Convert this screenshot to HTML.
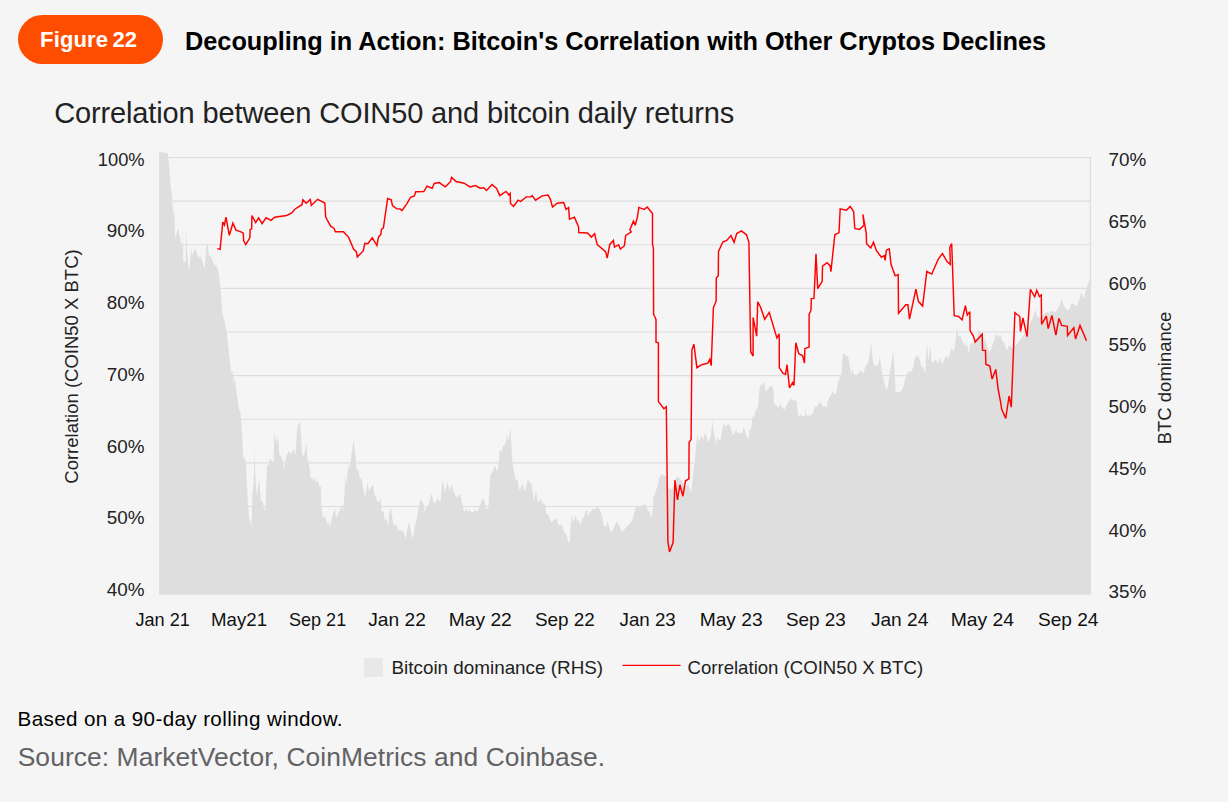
<!DOCTYPE html>
<html lang="en">
<head>
<meta charset="utf-8">
<title>Figure 22 - Decoupling in Action</title>
<style>
html,body{margin:0;padding:0;}
body{width:1228px;height:802px;background:#f5f5f5;overflow:hidden;position:relative;font-family:"Liberation Sans",Arial,sans-serif;}
.badge{position:absolute;left:18px;top:15px;width:145px;height:48.5px;border-radius:25px;background:#ff4d00;}
.badge span{position:absolute;left:22.1px;top:14.1px;color:#fff;font-weight:bold;font-size:22px;letter-spacing:0.15px;word-spacing:-2.0px;line-height:1;white-space:nowrap;}
.title{position:absolute;left:185.0px;top:28.5px;margin:0;font-weight:bold;font-size:25.3px;letter-spacing:0px;line-height:1;color:#000;white-space:nowrap;}
.sub{position:absolute;left:54.2px;top:99px;font-size:29px;letter-spacing:-0.13px;line-height:1;color:#222222;white-space:nowrap;}
.note{position:absolute;left:17.5px;top:709px;font-size:20.6px;letter-spacing:0.39px;line-height:1;color:#000;white-space:nowrap;}
.src{position:absolute;left:17.7px;top:743.5px;font-size:26.4px;letter-spacing:0.08px;line-height:1;color:#626264;white-space:nowrap;}
svg{position:absolute;left:0;top:0;}
svg text{font-family:"Liberation Sans",Arial,sans-serif;}
</style>
</head>
<body>
<div class="badge"><span>Figure 22</span></div>
<h1 class="title">Decoupling in Action: Bitcoin's Correlation with Other Cryptos Declines</h1>
<div class="sub">Correlation between COIN50 and bitcoin daily returns</div>
<svg width="1228" height="802" viewBox="0 0 1228 802">
<g stroke="#dddddd" stroke-width="1.1" fill="none">
<line x1="159.1" x2="1091.0" y1="157.55" y2="157.55"/>
<line x1="159.1" x2="1091.0" y1="201.17" y2="201.17"/>
<line x1="159.1" x2="1091.0" y1="244.79" y2="244.79"/>
<line x1="159.1" x2="1091.0" y1="288.41" y2="288.41"/>
<line x1="159.1" x2="1091.0" y1="332.03" y2="332.03"/>
<line x1="159.1" x2="1091.0" y1="375.65" y2="375.65"/>
<line x1="159.1" x2="1091.0" y1="419.27" y2="419.27"/>
<line x1="159.1" x2="1091.0" y1="462.89" y2="462.89"/>
<line x1="159.1" x2="1091.0" y1="506.51" y2="506.51"/>
<line x1="159.1" x2="1091.0" y1="550.13" y2="550.13"/>
<line x1="159.1" x2="1091.0" y1="593.75" y2="593.75"/>
<line x1="1090.4" x2="1090.4" y1="157" y2="594.5"/>
</g>
<path d="M159.1 151.8 L167.5 153.3 L168.6 159.5 L170.4 184.0 L171.9 195.6 L172.6 207.3 L174.5 216.4 L175.0 239.0 L178.0 228.0 L181.0 242.9 L182.5 243.9 L182.8 226.0 L183.3 262.0 L185.5 262.0 L186.0 226.0 L187.0 250.0 L189.0 272.9 L191.4 247.9 L192.4 254.9 L194.9 247.9 L196.9 252.9 L198.4 258.9 L199.9 254.9 L204.9 268.4 L206.4 245.9 L207.9 244.4 L208.9 255.9 L210.4 255.4 L214.9 265.9 L216.4 264.9 L218.4 270.9 L219.9 282.9 L220.7 290.0 L222.5 314.9 L224.2 320.1 L226.8 332.4 L228.6 349.8 L231.2 372.5 L232.6 370.8 L233.8 384.7 L235.0 377.7 L236.4 391.7 L239.0 409.1 L240.5 413.0 L241.2 421.2 L243.1 454.9 L244.0 460.5 L244.6 455.8 L245.9 464.2 L247.8 501.6 L249.6 522.1 L250.6 520.3 L251.5 529.6 L252.4 492.2 L253.3 487.0 L254.2 470.0 L254.7 447.4 L255.2 470.0 L256.0 487.0 L257.1 496.0 L259.0 478.2 L260.8 499.7 L262.7 502.5 L264.6 509.1 L265.5 510.0 L266.8 466.1 L268.3 465.1 L270.2 457.7 L272.1 461.4 L273.4 463.3 L274.5 432.4 L276.4 442.7 L277.9 436.2 L279.5 454.9 L281.4 456.7 L283.3 462.3 L284.2 469.8 L286.1 456.7 L288.9 451.1 L290.7 453.9 L293.6 448.9 L295.4 454.9 L297.3 426.8 L300.1 421.2 L302.0 453.0 L303.8 456.7 L306.3 443.6 L307.6 460.5 L309.4 466.1 L310.7 479.2 L312.2 476.4 L313.7 482.0 L315.0 477.3 L316.4 482.9 L317.9 480.1 L319.3 486.6 L320.7 485.7 L321.6 509.1 L323.5 518.4 L325.0 515.6 L327.2 524.0 L328.7 521.2 L329.6 527.8 L331.9 518.4 L334.7 508.1 L336.0 517.5 L339.3 510.9 L341.9 506.0 L342.8 512.5 L344.1 498.5 L345.6 476.1 L346.5 484.5 L348.4 463.9 L349.9 468.6 L351.6 453.6 L353.6 439.6 L355.5 455.5 L356.4 470.5 L357.8 468.2 L360.2 479.8 L361.5 477.0 L362.8 486.4 L365.2 497.6 L367.5 482.6 L369.0 491.0 L370.8 487.3 L373.1 485.0 L374.6 494.8 L377.4 501.3 L379.3 502.2 L380.6 497.6 L381.5 510.7 L383.4 511.6 L384.9 520.9 L386.4 518.1 L387.9 526.5 L389.5 511.6 L390.8 507.9 L392.9 521.9 L394.6 526.5 L396.1 523.7 L398.3 530.3 L401.3 529.9 L403.6 532.1 L405.8 538.7 L407.7 526.5 L409.2 521.9 L411.0 532.1 L412.9 538.7 L414.8 526.5 L416.6 519.1 L418.5 507.9 L420.4 498.5 L422.2 502.2 L423.7 504.1 L424.7 512.5 L426.4 506.0 L428.2 506.0 L429.7 500.4 L431.6 493.5 L433.5 502.2 L435.0 503.2 L437.2 498.5 L439.1 500.4 L440.6 501.3 L442.4 480.7 L443.7 484.5 L444.7 492.0 L447.5 482.6 L449.3 490.1 L451.5 484.8 L453.4 490.4 L455.2 495.0 L457.1 497.9 L458.4 495.0 L460.3 494.1 L461.6 501.6 L463.1 507.2 L464.0 512.8 L465.9 508.1 L467.8 511.9 L469.3 510.0 L471.5 511.9 L473.4 512.8 L475.2 509.1 L477.1 511.9 L479.0 508.1 L480.8 503.5 L482.7 497.9 L484.6 501.6 L485.5 508.1 L488.3 509.1 L489.6 488.5 L490.2 475.4 L492.1 472.6 L494.9 465.1 L496.4 469.8 L497.7 470.7 L499.0 460.5 L499.5 450.2 L501.4 452.1 L502.7 446.4 L505.1 444.6 L507.0 435.2 L508.3 441.8 L510.4 427.8 L511.7 451.1 L512.6 464.2 L514.5 473.6 L515.4 479.2 L517.7 480.1 L518.8 489.4 L520.7 488.5 L522.5 482.9 L524.2 491.3 L525.7 488.5 L528.1 478.2 L529.4 482.9 L530.7 482.0 L532.2 488.5 L534.1 501.6 L536.0 488.5 L537.5 501.6 L539.4 501.6 L541.2 498.8 L542.5 504.4 L544.4 502.5 L545.7 507.2 L546.3 514.7 L548.1 513.7 L550.0 519.3 L551.9 523.1 L553.7 518.4 L555.0 520.3 L556.5 518.0 L558.4 525.0 L560.7 524.4 L561.9 525.3 L563.7 530.9 L566.5 534.7 L568.4 543.1 L569.7 542.1 L570.7 525.3 L572.1 514.1 L573.6 523.5 L575.5 515.0 L577.2 521.6 L578.7 519.7 L580.2 525.3 L582.4 518.8 L584.3 516.0 L586.7 508.5 L588.0 516.0 L589.9 512.2 L592.7 508.5 L594.6 509.4 L597.4 506.6 L600.2 510.4 L602.1 516.0 L603.9 525.3 L605.8 527.2 L607.7 521.6 L609.2 527.2 L611.0 532.8 L613.3 529.1 L615.1 524.4 L617.0 521.6 L619.8 527.2 L622.1 531.9 L624.5 529.1 L627.3 526.3 L630.1 523.5 L632.5 519.7 L634.8 510.4 L636.6 505.7 L639.4 506.3 L642.0 506.6 L644.5 503.8 L646.4 506.6 L647.9 510.4 L649.3 511.3 L651.2 517.9 L652.9 508.5 L653.5 497.3 L655.3 492.6 L657.2 487.0 L659.1 478.6 L661.5 473.9 L663.7 475.8 L666.0 475.8 L668.4 487.9 L672.1 489.8 L675.0 479.5 L677.8 476.7 L680.0 478.5 L682.5 482.0 L685.0 487.8 L688.0 483.8 L691.0 492.8 L693.0 475.8 L694.8 460.0 L696.0 447.1 L697.4 434.1 L698.2 441.4 L700.1 439.0 L701.5 434.9 L703.3 439.8 L704.5 434.9 L706.0 432.9 L707.0 439.0 L708.6 442.6 L710.7 436.5 L712.4 421.1 L714.3 435.7 L716.4 443.9 L717.4 436.9 L718.4 440.2 L720.7 439.0 L722.1 430.0 L723.7 422.7 L724.9 426.8 L725.7 426.4 L727.3 424.7 L729.0 424.3 L730.6 427.6 L731.8 430.8 L732.6 435.3 L734.7 432.5 L736.3 429.2 L737.1 432.9 L738.7 432.5 L740.8 433.7 L742.7 432.5 L743.5 426.8 L744.9 430.8 L746.1 435.7 L748.5 438.6 L749.7 430.4 L751.4 427.6 L752.4 417.8 L754.1 415.9 L756.1 409.4 L757.7 408.5 L758.6 399.5 L759.6 387.8 L761.2 383.3 L762.4 386.2 L763.4 383.3 L764.5 380.1 L765.1 389.4 L766.3 391.1 L768.3 388.6 L770.4 386.2 L772.8 386.8 L773.6 391.9 L774.0 403.3 L776.1 405.3 L778.1 407.8 L780.3 404.1 L781.4 406.9 L784.6 409.8 L786.6 405.3 L788.7 401.2 L789.9 400.8 L791.5 398.2 L792.8 400.4 L794.4 400.0 L795.6 401.6 L796.4 400.0 L797.2 407.3 L798.0 414.7 L799.3 417.5 L800.1 414.3 L801.7 416.1 L805.0 416.1 L805.5 407.3 L806.2 415.9 L808.6 415.1 L810.3 416.7 L811.5 413.5 L812.5 414.7 L813.9 409.8 L815.6 405.7 L817.2 407.3 L818.4 404.1 L819.9 402.1 L821.7 404.5 L823.7 407.3 L824.9 406.1 L826.5 407.8 L827.8 401.6 L829.8 396.4 L831.4 393.9 L832.7 390.7 L833.9 394.3 L835.9 393.5 L837.1 387.8 L838.8 379.7 L840.4 375.6 L841.2 377.2 L842.0 366.6 L842.2 357.4 L843.7 352.7 L845.9 355.5 L848.2 356.4 L850.0 366.7 L851.5 374.2 L852.9 369.5 L854.0 374.2 L856.2 376.1 L857.8 374.1 L860.6 370.4 L863.4 373.2 L865.8 365.7 L868.1 362.9 L869.6 353.6 L870.9 341.4 L872.2 355.4 L873.7 364.8 L875.9 366.3 L878.4 364.8 L879.9 357.3 L882.1 374.1 L884.0 381.6 L885.8 389.1 L887.7 388.1 L889.6 374.1 L891.8 361.0 L893.3 349.8 L894.6 372.2 L895.7 391.9 L899.9 391.9 L902.7 389.1 L905.5 377.9 L908.3 371.3 L910.5 372.2 L912.9 368.5 L914.8 358.2 L917.1 355.4 L919.1 357.3 L921.4 366.6 L923.2 367.6 L925.1 374.1 L926.0 355.4 L927.0 343.3 L928.5 361.0 L930.3 345.1 L931.6 362.9 L933.5 362.0 L935.7 359.2 L938.2 363.8 L940.0 357.3 L942.3 364.8 L944.3 359.2 L946.2 355.4 L947.9 358.8 L949.8 354.5 L951.6 347.9 L953.1 351.7 L955.0 346.1 L956.9 327.4 L958.2 336.7 L960.0 334.9 L962.5 341.4 L965.3 346.1 L967.1 344.2 L968.8 354.2 L970.2 344.5 L972.9 342.5 L975.5 339.4 L977.2 336.8 L978.6 329.8 L980.4 332.4 L982.4 335.0 L984.5 338.5 L986.8 345.5 L989.4 352.5 L991.2 349.0 L992.9 343.8 L994.7 338.5 L996.4 333.3 L998.2 337.6 L1000.4 334.2 L1002.0 340.3 L1004.3 342.9 L1006.0 349.0 L1007.2 350.7 L1008.6 345.5 L1010.7 346.4 L1013.0 349.0 L1015.6 345.5 L1018.2 342.0 L1020.8 339.4 L1023.5 335.0 L1026.1 332.4 L1028.7 327.2 L1031.3 321.1 L1033.1 317.6 L1035.3 309.7 L1036.9 315.8 L1039.2 317.6 L1041.8 317.6 L1044.4 314.1 L1046.5 311.5 L1048.8 313.2 L1051.4 310.6 L1054.0 312.3 L1056.6 310.6 L1059.2 306.2 L1061.8 298.7 L1063.9 306.2 L1066.2 308.9 L1068.8 310.6 L1071.4 302.7 L1074.1 304.5 L1076.7 306.2 L1079.3 299.3 L1081.6 292.3 L1083.3 299.3 L1085.4 293.2 L1087.1 286.2 L1089.2 280.9 L1090.9 275.7 L1090.9 594.5 L159.1 594.5 Z" fill="#dedede" stroke="none"/>
<path d="M217.3 248.6 L220.1 249.4 L222.8 222.1 L224.4 224.9 L226.0 217.1 L229.3 235.3 L232.9 223.2 L236.0 230.1 L241.0 231.8 L243.3 233.1 L243.6 240.6 L245.8 244.5 L249.9 237.6 L250.1 229.5 L251.7 228.8 L251.9 215.5 L255.7 222.6 L258.6 217.8 L262.1 223.6 L266.0 217.8 L271.0 220.4 L274.6 217.2 L286.6 215.5 L291.8 212.9 L295.1 209.0 L302.0 204.7 L302.9 199.8 L306.2 203.3 L310.2 199.5 L311.4 205.4 L317.6 199.3 L324.8 203.0 L325.7 217.1 L330.6 226.2 L333.9 228.2 L335.4 231.8 L343.4 231.8 L348.5 237.1 L353.7 249.4 L356.3 251.6 L357.3 256.9 L363.2 251.0 L364.9 243.4 L367.8 243.7 L372.3 237.7 L376.9 245.5 L378.6 236.7 L380.8 234.7 L381.4 229.5 L383.4 227.8 L387.6 198.6 L391.2 199.9 L392.5 205.7 L396.4 208.6 L400.1 209.0 L401.9 210.6 L406.8 203.8 L410.5 197.3 L414.4 196.0 L415.7 191.7 L423.8 191.6 L427.0 186.1 L432.2 188.2 L434.2 183.5 L439.2 182.6 L445.3 186.8 L450.5 181.7 L451.6 177.4 L456.1 181.5 L464.1 183.2 L469.9 186.9 L475.4 185.6 L480.2 188.2 L483.9 187.8 L486.5 190.4 L492.0 184.5 L496.6 188.5 L499.8 195.6 L506.0 191.4 L508.9 195.0 L510.2 193.4 L510.5 203.4 L513.5 206.4 L518.1 200.2 L520.7 201.5 L526.2 196.9 L530.8 196.7 L532.1 195.6 L535.6 200.2 L542.2 195.9 L548.0 195.1 L550.3 199.1 L552.5 207.0 L557.1 203.2 L563.7 202.5 L566.0 209.3 L568.6 207.6 L569.5 219.1 L574.4 217.1 L578.6 226.9 L578.7 232.5 L587.5 233.0 L591.4 237.1 L594.6 233.7 L597.2 244.5 L605.6 251.6 L607.2 258.1 L609.8 244.4 L613.4 240.4 L614.5 247.1 L618.6 244.7 L620.4 249.0 L624.4 245.7 L625.7 235.5 L631.2 232.1 L629.9 229.6 L633.4 221.1 L635.2 225.3 L637.5 216.6 L638.8 207.4 L644.0 209.5 L647.2 207.1 L652.5 213.6 L652.5 243.9 L653.4 248.3 L653.6 314.2 L656.0 319.4 L656.0 342.2 L658.4 342.8 L658.4 401.6 L663.9 408.8 L666.3 406.8 L667.9 541.6 L669.5 552.0 L673.1 542.6 L674.9 480.2 L677.5 499.8 L679.9 484.8 L682.9 496.2 L685.5 480.8 L688.9 478.8 L689.1 442.3 L691.1 439.5 L691.9 349.8 L693.9 344.2 L696.9 367.7 L701.8 364.7 L707.8 363.1 L709.8 359.3 L711.2 365.7 L713.4 307.7 L716.1 301.2 L716.3 278.0 L718.3 275.8 L718.5 251.5 L722.8 242.0 L726.7 240.4 L731.0 235.6 L734.1 242.4 L736.7 233.6 L741.4 230.9 L746.5 234.8 L748.9 242.4 L750.7 351.7 L753.1 356.1 L753.1 317.4 L756.7 336.2 L757.7 301.8 L760.5 307.0 L764.7 319.3 L769.2 312.4 L776.9 338.0 L779.2 333.8 L779.3 367.6 L783.0 373.4 L785.6 374.2 L787.0 364.6 L789.5 387.8 L792.7 382.5 L794.0 385.5 L795.8 342.8 L798.8 353.8 L802.5 355.5 L804.5 363.1 L804.8 348.7 L809.1 347.0 L809.1 314.5 L811.0 310.2 L811.3 298.6 L814.0 298.4 L816.0 253.8 L817.7 288.6 L822.2 281.2 L822.5 266.1 L827.0 262.7 L830.2 265.9 L830.9 271.6 L834.8 234.8 L839.0 232.6 L840.2 208.8 L846.5 210.1 L850.2 206.4 L853.6 211.5 L854.8 228.5 L859.5 229.4 L864.0 225.3 L862.9 214.3 L866.2 232.9 L866.6 243.8 L870.8 248.0 L873.5 242.1 L876.3 250.5 L881.4 257.2 L884.2 255.6 L885.1 260.3 L886.4 250.2 L889.3 248.8 L891.0 264.3 L895.2 275.8 L898.2 274.6 L898.5 313.3 L905.8 304.7 L907.9 304.7 L909.5 319.2 L915.9 289.2 L918.4 301.3 L922.6 306.0 L926.8 271.5 L931.8 274.1 L938.2 259.3 L942.4 253.5 L947.0 261.5 L950.3 264.3 L949.8 247.5 L951.7 243.5 L954.2 315.6 L958.6 316.5 L962.1 319.9 L965.4 305.6 L967.2 315.1 L969.8 311.7 L970.1 330.5 L973.4 336.1 L975.2 342.1 L982.2 334.2 L982.5 350.1 L985.5 350.5 L985.9 364.2 L989.8 366.0 L992.1 379.1 L995.8 369.4 L998.1 389.0 L1000.5 401.6 L1001.8 409.6 L1005.7 418.4 L1009.1 396.0 L1011.3 407.2 L1014.9 312.7 L1019.8 316.5 L1020.5 331.4 L1022.9 318.0 L1027.1 336.7 L1030.4 289.4 L1034.7 296.8 L1036.8 290.3 L1039.4 296.5 L1041.3 295.0 L1041.6 324.3 L1046.3 316.1 L1048.2 328.6 L1051.9 315.5 L1055.9 335.2 L1058.9 318.3 L1061.7 325.4 L1067.3 326.4 L1067.6 335.5 L1073.8 327.7 L1075.5 338.9 L1080.0 325.4 L1086.5 340.8" fill="none" stroke="#ff0000" stroke-width="1.45" stroke-linejoin="miter" stroke-miterlimit="3" stroke-linecap="butt"/>
<g font-size="17.8" fill="#222222">
<text x="97.8" y="165.7" textLength="46.8" lengthAdjust="spacingAndGlyphs">100%</text>
<text x="106.8" y="237.4" textLength="37.8" lengthAdjust="spacingAndGlyphs">90%</text>
<text x="106.8" y="309.1" textLength="37.8" lengthAdjust="spacingAndGlyphs">80%</text>
<text x="106.8" y="380.8" textLength="37.8" lengthAdjust="spacingAndGlyphs">70%</text>
<text x="106.8" y="452.5" textLength="37.8" lengthAdjust="spacingAndGlyphs">60%</text>
<text x="106.8" y="524.2" textLength="37.8" lengthAdjust="spacingAndGlyphs">50%</text>
<text x="106.8" y="595.9" textLength="37.8" lengthAdjust="spacingAndGlyphs">40%</text>
<text x="1108.6" y="166.2" textLength="37.8" lengthAdjust="spacingAndGlyphs">70%</text>
<text x="1108.6" y="227.9" textLength="37.8" lengthAdjust="spacingAndGlyphs">65%</text>
<text x="1108.6" y="289.7" textLength="37.8" lengthAdjust="spacingAndGlyphs">60%</text>
<text x="1108.6" y="351.4" textLength="37.8" lengthAdjust="spacingAndGlyphs">55%</text>
<text x="1108.6" y="413.1" textLength="37.8" lengthAdjust="spacingAndGlyphs">50%</text>
<text x="1108.6" y="474.8" textLength="37.8" lengthAdjust="spacingAndGlyphs">45%</text>
<text x="1108.6" y="536.6" textLength="37.8" lengthAdjust="spacingAndGlyphs">40%</text>
<text x="1108.6" y="598.3" textLength="37.8" lengthAdjust="spacingAndGlyphs">35%</text>
</g>
<g font-size="17.8" fill="#111111">
<text x="135.4" y="626.0" textLength="54.4" lengthAdjust="spacingAndGlyphs">Jan 21</text>
<text x="211.1" y="626.0" textLength="55.9" lengthAdjust="spacingAndGlyphs">May21</text>
<text x="289.0" y="626.0" textLength="57.2" lengthAdjust="spacingAndGlyphs">Sep 21</text>
<text x="368.3" y="626.0" textLength="57.5" lengthAdjust="spacingAndGlyphs">Jan 22</text>
<text x="448.7" y="626.0" textLength="63.1" lengthAdjust="spacingAndGlyphs">May 22</text>
<text x="534.9" y="626.0" textLength="59.9" lengthAdjust="spacingAndGlyphs">Sep 22</text>
<text x="619.5" y="626.0" textLength="56.3" lengthAdjust="spacingAndGlyphs">Jan 23</text>
<text x="699.7" y="626.0" textLength="62.9" lengthAdjust="spacingAndGlyphs">May 23</text>
<text x="785.9" y="626.0" textLength="59.9" lengthAdjust="spacingAndGlyphs">Sep 23</text>
<text x="870.9" y="626.0" textLength="57.4" lengthAdjust="spacingAndGlyphs">Jan 24</text>
<text x="950.7" y="626.0" textLength="63.3" lengthAdjust="spacingAndGlyphs">May 24</text>
<text x="1037.9" y="626.0" textLength="60.6" lengthAdjust="spacingAndGlyphs">Sep 24</text>
</g>
<g font-size="18.5" fill="#222222" text-anchor="middle">
<text transform="translate(78.3 366.5) rotate(-90)">Correlation (COIN50 X BTC)</text>
<text transform="translate(1170.5 378) rotate(-90)">BTC dominance</text>
</g>
<rect x="364" y="658" width="19" height="19" fill="#e8e8e8"/>
<line x1="622.5" x2="680.5" y1="665.4" y2="665.4" stroke="#ff0000" stroke-width="1.4"/>
<g font-size="18.6" fill="#222222">
<text x="391.5" y="673.8" textLength="211.6" lengthAdjust="spacingAndGlyphs">Bitcoin dominance (RHS)</text>
<text x="687.5" y="673.8">Correlation (COIN50 X BTC)</text>
</g>
</svg>
<div class="note">Based on a 90-day rolling window.</div>
<div class="src">Source: MarketVector, CoinMetrics and Coinbase.</div>
</body>
</html>
